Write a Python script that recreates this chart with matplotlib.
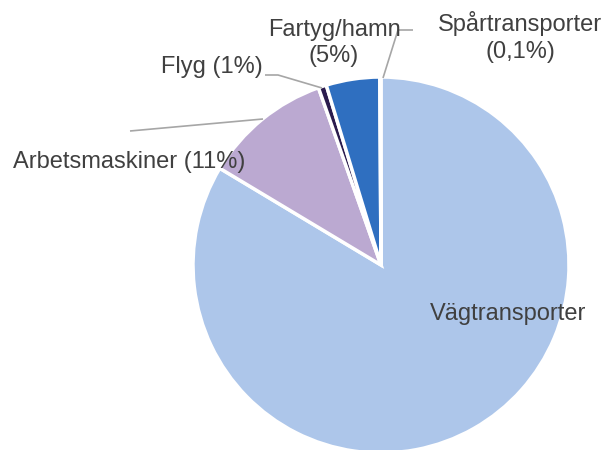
import matplotlib.pyplot as plt

plt.rcParams['font.family'] = ['Liberation Sans', 'DejaVu Sans']

# data
categories = ['Vägtransporter', 'Arbetsmaskiner', 'Flyg', 'Fartyg/hamn', 'Spårtransporter']
shares = [83.6, 11.0, 0.7, 4.6, 0.1]
labels = ['Vägtransporter', 'Arbetsmaskiner (11%)', 'Flyg (1%)', 'Fartyg/hamn\n(5%)', 'Spårtransporter\n(0,1%)']
colors = ['#ADC6EA', '#BBA9D1', '#2B1C4E', '#2F6FC0', '#8EA9DB']

W, H = 606, 450
fig = plt.figure(figsize=(W / 100, H / 100), dpi=100)
ax = fig.add_axes([0, 0, 1, 1])
ax.set_xlim(0, W)
ax.set_ylim(0, H)
ax.set_aspect('equal')
ax.axis('off')

# pie in pixel-like coords (y measured from bottom)
cx, cy, r = 381, H - 265, 188
ax.pie(shares, colors=colors, startangle=90, counterclock=False,
       center=(cx, cy), radius=r, frame=True,
       wedgeprops=dict(edgecolor='white', linewidth=2.5))
ax.set_xlim(0, W)
ax.set_ylim(0, H)
ax.axis('off')

txt = '#404040'
line = '#A6A6A6'

# label positions (x, y from top)
label_pos = [(508, 314), (129, 162), (212, 67), (334, 43), (520, 37)]
for lab, (x, y) in zip(labels, label_pos):
    ax.text(x, H - y, lab, ha='center', va='center', fontsize=17,
            color=txt, linespacing=1.25)

# leader lines
leaders = [
    [(130, 131), (263, 119)],
    [(265, 75), (278, 75), (322, 88)],
    [(413, 30), (398, 30), (383, 78)],
]
for pts in leaders:
    xs = [p[0] for p in pts]
    ys = [H - p[1] for p in pts]
    ax.plot(xs, ys, color=line, linewidth=1.2, solid_capstyle='butt')

fig.savefig('out.png', dpi=100)
